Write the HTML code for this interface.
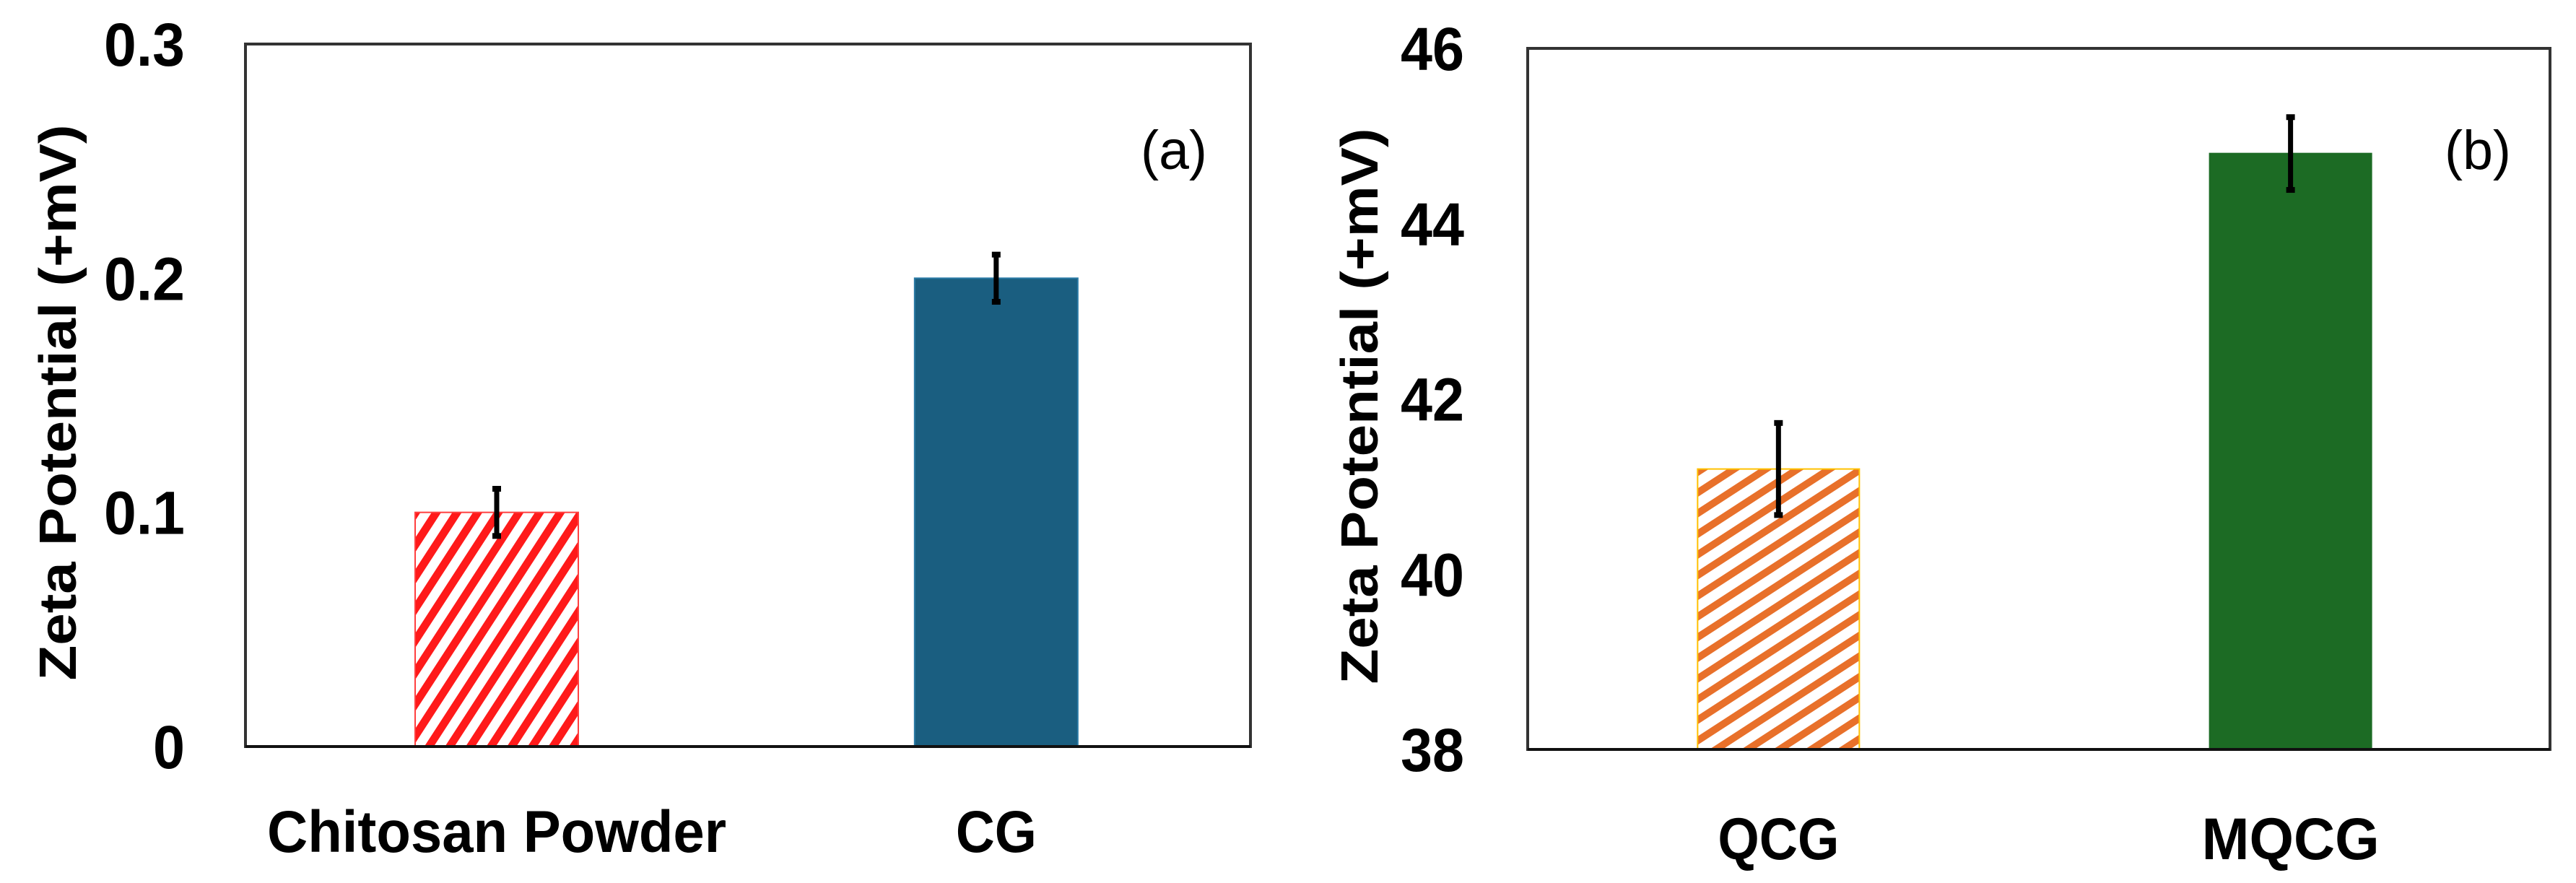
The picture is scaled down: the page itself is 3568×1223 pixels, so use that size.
<!DOCTYPE html>
<html><head><meta charset="utf-8"><style>
html,body{margin:0;padding:0;background:#fff;}
svg{display:block;}
text{font-family:"Liberation Sans",sans-serif;}
</style></head><body>
<svg id="fig" width="3568" height="1223" viewBox="0 0 3568 1223" xmlns="http://www.w3.org/2000/svg">
<defs>
<pattern id="redHatch" patternUnits="userSpaceOnUse" width="24" height="24" patternTransform="rotate(-57)">
<rect width="24" height="24" fill="#fff"/><rect y="0" width="24" height="11" fill="#ff1a1a"/>
</pattern>
<pattern id="orangeHatch" patternUnits="userSpaceOnUse" width="24" height="24" patternTransform="rotate(-33)">
<rect width="24" height="24" fill="#fff"/><rect y="0" width="24" height="10" fill="#e8702a"/>
</pattern>
</defs>
<g id="panelA"></g>
<g id="panelB"></g>
</svg>
<script>
const catsA = ["Chitosan Powder", "CG"];
const valsA = [0.1, 0.2];
const errsA = [0.011, 0.011];
const ticksA = [0, 0.1, 0.2, 0.3];
const tickLabelsA = ["0", "0.1", "0.2", "0.3"];

const catsB = ["QCG", "MQCG"];
const valsB = [41.2, 44.8];
const errsB = [0.55, 0.44];
const ticksB = [38, 40, 42, 44, 46];
const tickLabelsB = ["38", "40", "42", "44", "46"];

const NS = "http://www.w3.org/2000/svg";
function mk(parent, tag, attrs, txt){
  const e = document.createElementNS(NS, tag);
  for (const k in attrs) e.setAttribute(k, attrs[k]);
  if (txt !== undefined) e.textContent = txt;
  parent.appendChild(e);
  return e;
}
function labelWidth(s){
  // condensed-font width estimate (Calibri bold look)
  let w = 0;
  for (const ch of s){
    if (ch === '.') w += 24;
    else if (/[0-9]/.test(ch)) w += 44;
    else if (ch === ' ') w += 18;
    else if (/[A-Z]/.test(ch)) w += ch === 'M' ? 78 : 56;
    else if (/[iltr]/.test(ch)) w += 28;
    else if (ch === 'w') w += 62;
    else w += 45;
  }
  return w;
}

function drawPanel(g, cfg, cats, vals, errs, ticks, tickLabels){
  const {x0,x1,y0,y1,min,max,fills,strokes,tickRight,titleX,labelY,tag,tagX,tagY,barW,centers} = cfg;
  const ys = v => y1 - (v - min) / (max - min) * (y1 - y0);
  const xs = f => x0 + f * (x1 - x0);
  cats.forEach((c, i) => {
    const cx = xs(centers[i]);
    const bar = mk(g, "rect", {x: cx - barW/2, y: ys(vals[i]), width: barW, height: ys(min) - ys(vals[i]), fill: fills[i], stroke: strokes[i], "stroke-width": 2});
    
    
    const eb = mk(g, "g", {});
    
    
    const yt = ys(vals[i] + errs[i]), yb = ys(vals[i] - errs[i]);
    mk(eb, "line", {x1: cx, x2: cx, y1: yt, y2: yb, stroke: "#000", "stroke-width": 7});
    mk(eb, "line", {x1: cx - 6, x2: cx + 6, y1: yt + 3, y2: yt + 3, stroke: "#000", "stroke-width": 8});
    mk(eb, "line", {x1: cx - 6, x2: cx + 6, y1: yb - 3, y2: yb - 3, stroke: "#000", "stroke-width": 8});
    const lab = mk(g, "text", {x: cx, y: labelY, "text-anchor": "middle", "font-size": 82, "font-weight": "bold", fill: "#000", textLength: labelWidth(c), lengthAdjust: "spacingAndGlyphs"}, c);
    
    
  });
  const fr = mk(g, "rect", {x: x0, y: y0, width: x1 - x0, height: y1 - y0, fill: "none", stroke: "#333", "stroke-width": 4});
  
  
  mk(g, "line", {x1: x0, x2: x1, y1: y1, y2: y1, stroke: "#111", "stroke-width": 4});
  ticks.forEach((t, i) => {
    const tl = mk(g, "text", {x: tickRight, y: ys(t) + 30, "text-anchor": "end", "font-size": 84, "font-weight": "bold", fill: "#000", textLength: labelWidth(tickLabels[i]), lengthAdjust: "spacingAndGlyphs"}, tickLabels[i]);
    
    
  });
  const tt = mk(g, "text", {x: 0, y: 0, transform: `translate(${titleX},${(y0 + y1) / 2 + 10}) rotate(-90)`, "text-anchor": "middle", "font-size": 72, "font-weight": "bold", fill: "#000", textLength: 770, lengthAdjust: "spacingAndGlyphs"}, "Zeta Potential (+mV)");
  
  
  const tg = mk(g, "text", {x: tagX, y: tagY, "text-anchor": "middle", "font-size": 76, fill: "#000", textLength: 92, lengthAdjust: "spacingAndGlyphs"}, tag);
  
  
}

drawPanel(document.getElementById("panelA"),
  {x0: 340, x1: 1732, y0: 61, y1: 1034, min: 0, max: 0.3, fills: ["url(#redHatch)", "#1a5e80"], strokes: ["#ff4040", "#2a7aa5"],
   tickRight: 256, titleX: 105, labelY: 1180, tag: "(a)", tagX: 1626, tagY: 234, barW: 226, centers: [0.25, 0.747]},
  catsA, valsA, errsA, ticksA, tickLabelsA);

drawPanel(document.getElementById("panelB"),
  {x0: 2116, x1: 3532, y0: 67, y1: 1038, min: 38, max: 46, fills: ["url(#orangeHatch)", "#1c6b24"], strokes: ["#ffc000", "#1c6b24"],
   tickRight: 2028, titleX: 1908, labelY: 1190, tag: "(b)", tagX: 3432, tagY: 234, barW: 224, centers: [0.2453, 0.7462]},
  catsB, valsB, errsB, ticksB, tickLabelsB);
</script>
</body></html>
